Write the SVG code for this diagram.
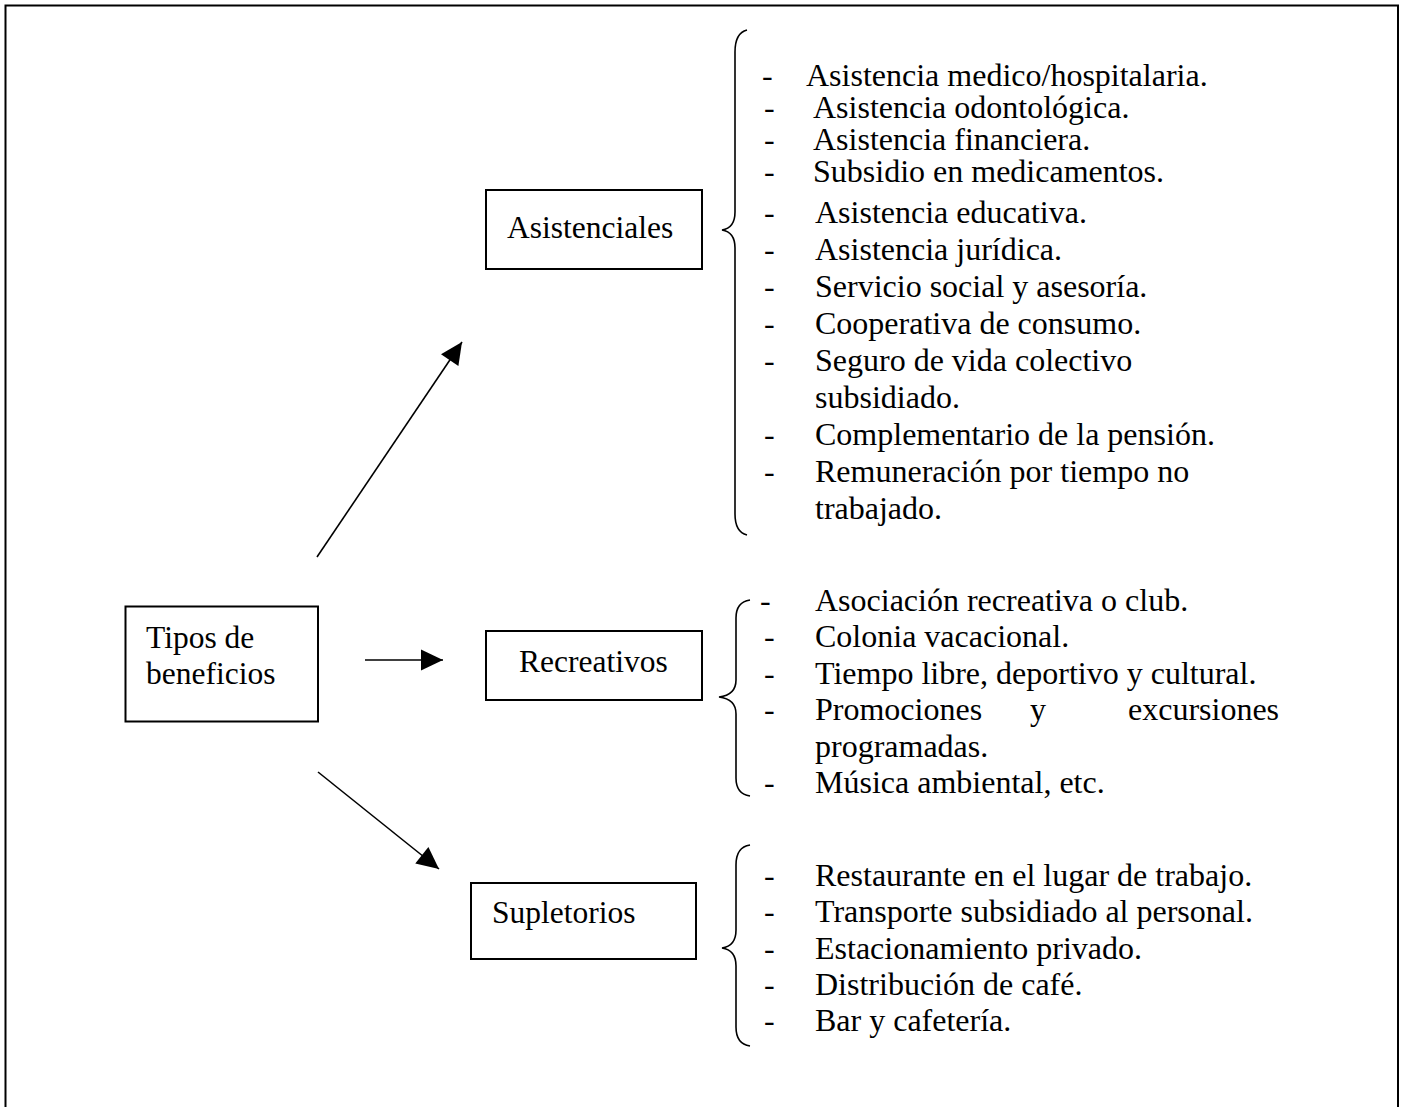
<svg xmlns="http://www.w3.org/2000/svg" width="1404" height="1107" viewBox="0 0 1404 1107">
<style>
text{font-family:"Liberation Serif","Times New Roman",serif;font-size:31.5px;fill:#000}
.li{font-size:32px}
.box{fill:#fff;stroke:#000;stroke-width:2}
.ln{stroke:#000;stroke-width:1.6;fill:none}
.br{stroke:#000;stroke-width:1.6;fill:none}
</style>
<defs>
<marker id="ah" markerUnits="userSpaceOnUse" markerWidth="24" markerHeight="24" viewBox="0 0 24 24" refX="23" refY="12" orient="auto">
<path d="M1 1.5 L23 12 L1 22.5 Z" fill="#000"/>
</marker>
</defs>
<rect x="5.5" y="5.5" width="1392.5" height="1110" fill="#fff" stroke="#000" stroke-width="2"/>
<g id="connectors">
<line class="ln" x1="317" y1="557" x2="462" y2="342" marker-end="url(#ah)"/>
<line class="ln" x1="365" y1="660" x2="443" y2="660" marker-end="url(#ah)"/>
<line class="ln" x1="318" y1="772" x2="439" y2="869" marker-end="url(#ah)"/>
</g>
<g id="tipos">
<rect class="box" x="125.5" y="606.5" width="192.5" height="115"/>
<text x="146" y="648">Tipos de</text>
<text x="146" y="684">beneficios</text>
</g>
<g id="asistenciales">
<rect class="box" x="486" y="190" width="216" height="79"/>
<text x="507" y="238">Asistenciales</text>
</g>
<g id="recreativos">
<rect class="box" x="486" y="631" width="216" height="69"/>
<text x="519" y="672">Recreativos</text>
</g>
<g id="supletorios">
<rect class="box" x="471" y="883" width="225" height="76"/>
<text x="492" y="923">Supletorios</text>
</g>
<g id="asistenciales-list" class="li">
<path class="br" d="M747 30 Q735 33 735 52 L735 212 Q735 228 722 230 Q735 232 735 248 L735 514 Q735 532 747 535"/>
<text class="li" x="762" y="86">-</text><text class="li" x="806" y="86">Asistencia medico/hospitalaria.</text>
<text class="li" x="764" y="118">-</text><text class="li" x="813" y="118">Asistencia odontológica.</text>
<text class="li" x="764" y="150">-</text><text class="li" x="813" y="150">Asistencia financiera.</text>
<text class="li" x="764" y="182">-</text><text class="li" x="813" y="182">Subsidio en medicamentos.</text>
<text class="li" x="764" y="223">-</text><text class="li" x="815" y="223">Asistencia educativa.</text>
<text class="li" x="764" y="260">-</text><text class="li" x="815" y="260">Asistencia jurídica.</text>
<text class="li" x="764" y="297">-</text><text class="li" x="815" y="297">Servicio social y asesoría.</text>
<text class="li" x="764" y="334">-</text><text class="li" x="815" y="334">Cooperativa de consumo.</text>
<text class="li" x="764" y="371">-</text><text class="li" x="815" y="371">Seguro de vida colectivo</text>
<text class="li" x="815" y="408">subsidiado.</text>
<text class="li" x="764" y="445">-</text><text class="li" x="815" y="445">Complementario de la pensión.</text>
<text class="li" x="764" y="482">-</text><text class="li" x="815" y="482">Remuneración por tiempo no</text>
<text class="li" x="815" y="519">trabajado.</text>
</g>
<g id="recreativos-list">
<path class="br" d="M750 600 Q736 602 736 618 L736 680 Q736 695 719 697 Q736 699 736 714 L736 778 Q736 794 750 796"/>
<text class="li" x="760" y="611">-</text><text class="li" x="815" y="611">Asociación recreativa o club.</text>
<text class="li" x="764" y="647">-</text><text class="li" x="815" y="647">Colonia vacacional.</text>
<text class="li" x="764" y="684">-</text><text class="li" x="815" y="684">Tiempo libre, deportivo y cultural.</text>
<text class="li" x="764" y="720">-</text><text class="li" x="815" y="720">Promociones</text><text class="li" x="1030" y="720">y</text><text class="li" x="1128" y="720">excursiones</text>
<text class="li" x="815" y="757">programadas.</text>
<text class="li" x="764" y="793">-</text><text class="li" x="815" y="793">Música ambiental, etc.</text>
</g>
<g id="supletorios-list">
<path class="br" d="M750 845 Q736 847 736 865 L736 930 Q736 946 722 948 Q736 950 736 966 L736 1027 Q736 1044 750 1046"/>
<text class="li" x="764" y="886">-</text><text class="li" x="815" y="886">Restaurante en el lugar de trabajo.</text>
<text class="li" x="764" y="922">-</text><text class="li" x="815" y="922">Transporte subsidiado al personal.</text>
<text class="li" x="764" y="959">-</text><text class="li" x="815" y="959">Estacionamiento privado.</text>
<text class="li" x="764" y="995">-</text><text class="li" x="815" y="995">Distribución de café.</text>
<text class="li" x="764" y="1031">-</text><text class="li" x="815" y="1031">Bar y cafetería.</text>
</g>
</svg>
